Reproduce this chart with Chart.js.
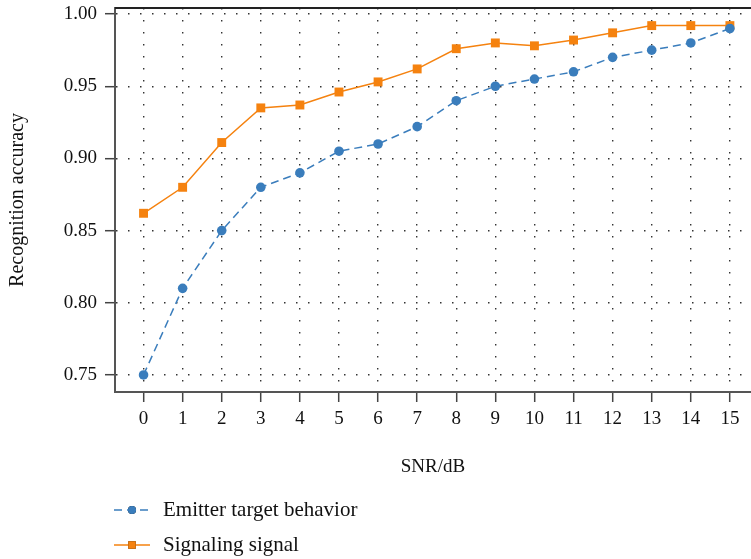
<!DOCTYPE html>
<html>
<head>
<meta charset="utf-8">
<script src="https://cdn.jsdelivr.net/npm/chart.js@4.4.0/dist/chart.umd.min.js"></script>
<style>
  html, body { margin: 0; padding: 0; background: #fff; }
  #wrap { width: 751px; height: 559px; position: relative; }
</style>
</head>
<body>
<div id="wrap"><canvas id="snr-chart" width="751" height="559"></canvas></div>
<script>
// SNR 刻度（x 軸）
const snrValues = [0, 1, 2, 3, 4, 5, 6, 7, 8, 9, 10, 11, 12, 13, 14, 15];
const yTickValues = [0.75, 0.80, 0.85, 0.90, 0.95, 1.00];

// 兩條曲線的識別準確率
const emitterAccuracy = [0.750, 0.810, 0.850, 0.880, 0.890, 0.905, 0.910, 0.922,
                         0.940, 0.950, 0.955, 0.960, 0.970, 0.975, 0.980, 0.990];
const signalingAccuracy = [0.862, 0.880, 0.911, 0.935, 0.937, 0.946, 0.953, 0.962,
                           0.976, 0.980, 0.978, 0.982, 0.987, 0.992, 0.992, 0.992];

const seriesLabels = ['Emitter target behavior', 'Signaling signal'];

const FONT = '"Liberation Serif", "DejaVu Serif", serif';
const BLUE = '#3a7dbc';
const ORANGE = '#f5820f';
const GRID = '#333';

function toPoints(values) {
    return snrValues.map((x, i) => ({ x: x, y: values[i] }));
}

// 上邊框
const topFrame = {
    id: 'topFrame',
    afterDraw(chart) {
        const { ctx, chartArea } = chart;
        ctx.save();
        ctx.strokeStyle = '#222';
        ctx.lineWidth = 2;
        ctx.beginPath();
        ctx.moveTo(chartArea.left, chartArea.top);
        ctx.lineTo(chartArea.right, chartArea.top);
        ctx.stroke();
        ctx.restore();
    }
};

// 圖例：畫在圖表下方，直向排列
const stackedLegend = {
    id: 'stackedLegend',
    afterDraw(chart) {
        const ctx = chart.ctx;
        const rows = [510, 545];
        chart.data.datasets.forEach((ds, i) => {
            const y = rows[i];
            ctx.save();
            ctx.strokeStyle = ds.borderColor;
            ctx.lineWidth = ds.borderWidth;
            ctx.setLineDash(ds.borderDash || []);
            ctx.beginPath();
            ctx.moveTo(114, y);
            ctx.lineTo(150, y);
            ctx.stroke();
            ctx.setLineDash([]);
            Chart.helpers.drawPoint(ctx, {
                pointStyle: ds.pointStyle,
                radius: ds.pointRadius * 0.85,
                borderWidth: 0
            }, 132, y);
            ctx.fillStyle = ds.backgroundColor;
            ctx.fill();
            ctx.fillStyle = '#111';
            ctx.font = '21px ' + FONT;
            ctx.textBaseline = 'middle';
            ctx.fillText(ds.label, 163, y);
            ctx.restore();
        });
    }
};

const gridOpts = {
    color: GRID,
    lineWidth: 1.4,
    tickBorderDash: [],
    tickColor: '#444',
    tickWidth: 1.5,
    tickLength: 10
};

new Chart(document.getElementById('snr-chart'), {
    type: 'line',
    data: {
        datasets: [{
            label: seriesLabels[0],
            data: toPoints(emitterAccuracy),
            borderColor: BLUE,
            backgroundColor: BLUE,
            borderWidth: 1.5,
            borderDash: [8, 5],
            pointStyle: 'circle',
            pointRadius: 4.8,
            pointBorderWidth: 0,
            tension: 0
        }, {
            label: seriesLabels[1],
            data: toPoints(signalingAccuracy),
            borderColor: ORANGE,
            backgroundColor: ORANGE,
            borderWidth: 1.5,
            pointStyle: 'rect',
            pointRadius: 6.3,
            pointBorderWidth: 0,
            tension: 0
        }]
    },
    options: {
        responsive: false,
        animation: false,
        layout: { autoPadding: false, padding: { top: 8, right: 0, bottom: 77, left: 0 } },
        plugins: {
            legend: { display: false },
            tooltip: { enabled: false }
        },
        scales: {
            x: {
                type: 'linear',
                min: -0.73,
                max: 15.54,
                afterFit: function(scale) {
                    scale.height = 90;
                    scale.paddingLeft = 0;
                    scale.paddingRight = 0;
                },
                afterBuildTicks: function(scale) {
                    scale.ticks = snrValues.map(v => ({ value: v }));
                },
                ticks: {
                    color: '#111',
                    padding: 6,
                    font: { family: FONT, size: 19 },
                    callback: v => String(v)
                },
                grid: gridOpts,
                border: { display: true, color: '#555', width: 2, dash: [1.5, 10.5] },
                title: {
                    display: true,
                    text: 'SNR/dB',
                    color: '#111',
                    font: { family: FONT, size: 19 },
                    padding: { top: 0, bottom: 4 }
                }
            },
            y: {
                min: 0.7382,
                max: 1.0042,
                afterFit: function(scale) {
                    scale.width = 115;
                    scale.paddingTop = 0;
                    scale.paddingBottom = 0;
                },
                afterBuildTicks: function(scale) {
                    scale.ticks = yTickValues.map(v => ({ value: v }));
                },
                ticks: {
                    color: '#111',
                    padding: 8,
                    font: { family: FONT, size: 19 },
                    callback: v => v.toFixed(2)
                },
                grid: gridOpts,
                border: { display: true, color: '#555', width: 2, dash: [1.5, 10.5] },
                title: {
                    display: true,
                    text: 'Recognition accuracy',
                    color: '#111',
                    font: { family: FONT, size: 20 },
                    padding: { top: 6, bottom: 0 }
                }
            }
        }
    },
    plugins: [topFrame, stackedLegend]
});
</script>
</body>
</html>
